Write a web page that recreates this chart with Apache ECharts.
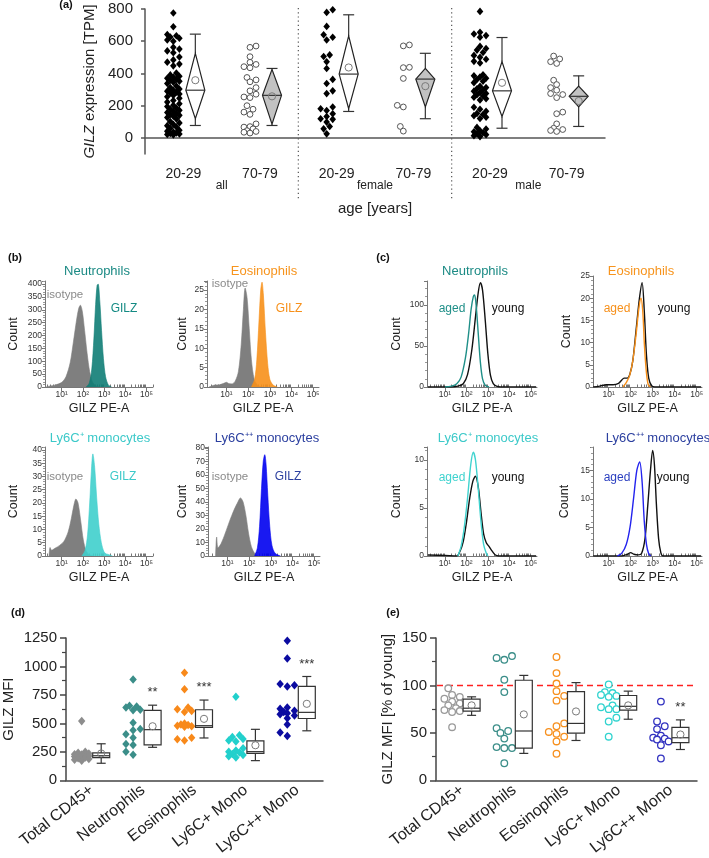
<!DOCTYPE html>
<html><head><meta charset="utf-8">
<script src="https://cdn.jsdelivr.net/npm/echarts@6/dist/echarts.min.js"></script>
<style>html,body{margin:0;padding:0;background:#fff}#c{width:709px;height:858px}</style>
</head><body><div id="c"></div>
<script>
// ================= DATA =================
// (a) GILZ expression [TPM]
const ageLabels = ['20-29','70-79','20-29','70-79','20-29','70-79'];
const sexLabels = ['all','female','male'];
const aYTicks = [0,200,400,600,800];
const aAllYoung = [775,690,642,634,626,618,608,600,562,551,540,528,502,484,470,458,447,402,391,383,376,370,364,358,352,345,338,322,312,303,296,290,284,278,272,264,255,246,232,222,212,203,195,186,178,171,165,158,152,146,140,134,127,118,102,93,84,76,68,60,47,41,36,31,28,24,21,18];
const aAllOld = [570,562,504,469,456,442,435,375,360,348,312,292,271,254,250,200,178,160,146,87,70,67,56,45,40,35,30];
const aFemYoung = [795,779,692,640,625,608,515,505,473,431,363,338,292,275,192,181,170,150,133,119,115,98,71,56,25];
const aFemOld = [577,571,438,436,369,202,192,71,42];
const aMaleYoung = [785,655,645,635,625,568,555,545,530,512,500,488,475,465,392,385,378,370,362,352,343,320,312,305,298,290,282,276,268,260,252,243,235,190,178,165,152,145,138,128,120,65,55,45,38,32,26,20,14,8];
const aMaleOld = [508,490,473,462,358,331,312,296,275,269,250,160,150,87,60,52,46,40];
const aWhiskerLow = [77,77,164,119,60,71];
const aQ1 = [119,85,181,192,133,192];
const aMedian = [296,264,396,365,292,258];
const aQ3 = [525,425,633,431,473,321];
const aWhiskerHigh = [644,431,764,525,623,385];
const aMean = [358,258,437,321,342,229];

// (b) flow histograms: [log10(GILZ PE-A), count]
const decadeTicks = [1,2,3,4,5];
const b1Iso = [[0.25,0],[0.4,3],[0.7,8],[1.0,18],[1.2,40],[1.4,95],[1.55,175],[1.7,260],[1.8,305],[1.88,318],[1.97,295],[2.08,220],[2.2,130],[2.32,60],[2.45,20],[2.6,5],[2.8,0]];
const b1Gilz = [[2.15,0],[2.3,15],[2.42,70],[2.52,190],[2.6,320],[2.67,395],[2.72,400],[2.8,330],[2.88,220],[2.97,110],[3.07,40],[3.2,8],[3.35,0]];
const b2Iso = [[0.2,0],[0.45,0.5],[0.7,0.6],[0.9,1.0],[1.0,1.2],[1.1,0.9],[1.25,0.8],[1.4,1.5],[1.55,4],[1.68,11],[1.78,20],[1.86,25.5],[1.95,23],[2.05,15],[2.15,7],[2.28,2],[2.45,0.4],[2.7,0]];
const b2Gilz = [[2.15,0],[2.3,2],[2.4,7],[2.5,17],[2.58,25],[2.64,27],[2.7,24],[2.8,14],[2.9,6],[3.0,2],[3.15,0.5],[3.35,0]];
const b3Iso = [[0.4,0],[0.45,3.2],[0.52,2.2],[0.7,3],[0.9,4],[1.1,5.5],[1.3,9],[1.45,14],[1.57,19],[1.67,21.5],[1.77,20],[1.9,13],[2.02,6],[2.15,2],[2.3,0.5],[2.5,0]];
const b3Gilz = [[1.95,0],[2.1,2],[2.22,8],[2.32,20],[2.4,32],[2.47,38.5],[2.55,34],[2.65,22],[2.75,12],[2.87,5],[3.0,1.5],[3.1,0.8],[3.2,0.6],[3.4,0]];
const b4Iso = [[0.45,0],[0.5,14],[0.56,6],[0.7,9],[0.9,17],[1.1,26],[1.3,34],[1.45,39],[1.6,43],[1.72,40],[1.85,30],[1.97,17],[2.1,7],[2.25,2],[2.4,0]];
const b4Gilz = [[2.25,0],[2.38,6],[2.48,22],[2.57,50],[2.65,70],[2.72,75],[2.78,68],[2.86,45],[2.95,22],[3.05,8],[3.2,2],[3.45,0]];
// (c) aged vs young
const c1Aged = [[1.0,0],[1.3,1],[1.55,4],[1.75,12],[1.95,35],[2.1,65],[2.22,95],[2.32,110],[2.38,112],[2.45,100],[2.55,65],[2.65,30],[2.75,10],[2.88,2],[3.05,0]];
const c1Young = [[0.2,0],[1.3,0],[1.6,1],[1.85,4],[2.05,15],[2.25,45],[2.42,85],[2.55,115],[2.65,127],[2.75,118],[2.88,80],[3.0,40],[3.12,14],[3.25,4],[3.4,1],[3.6,0],[5.25,0]];
const c2Aged = [[1.65,0],[1.8,1],[1.95,2.5],[2.1,6],[2.25,12],[2.38,18],[2.47,20],[2.55,17],[2.63,9],[2.72,3],[2.8,0.5],[2.9,0]];
const c2Young = [[0.3,0],[0.6,0.2],[0.9,0.5],[1.2,0.5],[1.45,0.8],[1.6,1.6],[1.7,2],[1.85,2],[1.97,3],[2.1,6],[2.25,13],[2.4,20],[2.52,23.5],[2.62,17],[2.72,7],[2.82,2],[2.95,0.3],[3.1,0],[5.2,0]];
const c3Aged = [[1.6,0],[1.75,1],[1.9,3],[2.05,6],[2.2,9.5],[2.32,10.8],[2.42,10],[2.55,7],[2.68,3.5],[2.8,1.2],[2.92,0.3],[3.0,0]];
const c3Young = [[0.2,0.1],[1.0,0.05],[1.55,0],[1.7,0.5],[1.85,1.5],[2.0,3.5],[2.15,6],[2.3,7.8],[2.42,8.3],[2.55,7.2],[2.68,4.5],[2.8,2.3],[2.92,1.4],[3.05,1],[3.2,0.5],[3.35,0.1],[3.5,0],[5.25,0]];
const c4Aged = [[1.4,0],[1.6,0.5],[1.8,2],[1.97,5],[2.13,10],[2.28,15],[2.41,16.5],[2.52,13],[2.62,6],[2.72,2],[2.82,0.4],[2.92,0]];
const c4Young = [[0.3,0],[1.6,0],[1.85,0.3],[2.0,0.6],[2.15,0.3],[2.35,0.2],[2.5,0.5],[2.65,3],[2.78,9],[2.9,15],[3.0,18.5],[3.08,16],[3.17,9],[3.27,3],[3.37,0.6],[3.47,0],[5.2,0]];

// (d) GILZ MFI
const cellTypes = ['Total CD45+','Neutrophils','Eosinophils','Ly6C+ Mono','Ly6C++ Mono'];
const dTotal = [520,250,242,236,230,226,222,218,214,210,205,200,195,188,180,172];
const dNeut = [885,655,648,640,620,615,505,450,440,405,375,320,310,250,225];
const dEos = [945,800,640,625,610,600,500,490,485,480,475,470,375,360,350];
const dLy6C = [735,395,380,362,350,342,282,262,252,244,232,222,212,200];
const dLy6Cpp = [1225,1070,845,835,825,640,628,612,600,590,580,570,545,490,420,390];
const dWhiskerLow = [150,290,372,173,435];
const dQ1 = [199,312,465,236,543];
const dMedian = [216,445,480,252,597];
const dQ3 = [241,615,620,347,825];
const dWhiskerHigh = [321,660,705,448,912];
const dMean = [236,475,540,308,672];
const dSig = ['','**','***','','***'];

// (e) GILZ MFI [% of young]
const eTotal = [97,90,88,86,83,81,79,76,74,73,72,56];
const eNeut = [131,129,127,106,93,55,52,50,44,35,34,34,18];
const eEos = [130,113,102,94,89,84,60,57,51,49,46,41,28];
const eLy6C = [101,93,92,90,89,88,79,77,75,75,66,62,46];
const eLy6Cpp = [83,62,57,54,47,45,44,43,41,37,23];
const eWhiskerLow = [68.5,28.4,42,64.4,32.5];
const eQ1 = [73,34,49.7,74,39.7];
const eMedian = [76,52,60,78,44.9];
const eQ3 = [85.6,105.5,93.5,89.4,55.8];
const eWhiskerHigh = [88,110.6,103,94,63.7];
const eMean = [79,69.5,72.6,79,48.3];
const eSig = ['','','','','**'];
const eReference = 100;

// ================= HELPERS =================
const FONT = '"Liberation Sans", Arial, sans-serif';
const SUP = {1:'¹',2:'²',3:'³',4:'⁴',5:'⁵'};

function swarmLayout(ys, diam, maxW) {
  const n = ys.length;
  const order = ys.map((y, i) => i).sort((a, b) => ys[b] - ys[a]);
  const off = new Array(n).fill(0), placed = [];
  const step = diam * 0.55;
  const cands = [0];
  for (let k = 1; k * step <= maxW + 0.01; k++) cands.push(k * step, -k * step);
  order.forEach((i, j) => {
    let best = 0, bestD = -1;
    for (const c0 of cands) {
      const c = (j % 2 ? -c0 : c0);
      let md = Infinity;
      for (const p of placed) { const d = Math.hypot(p[0] - c, p[1] - ys[i]); if (d < md) md = d; }
      if (md >= diam * 0.95) { best = c; bestD = Infinity; break; }
      if (md > bestD) { bestD = md; best = c; }
    }
    off[i] = best; placed.push([best, ys[i]]);
  });
  return off;
}
function mark(shape, x, y, s, st) {
  if (shape === 'diamond') return {type:'polygon', shape:{points:[[x,y-s*1.15],[x+s,y],[x,y+s*1.15],[x-s,y]]}, style:st};
  return {type:'circle', shape:{cx:x, cy:y, r:s}, style:st};
}
function dotSeries(xi, yi, cat, values, cfg) {
  let off = null;
  return {
    type:'custom', xAxisIndex:xi, yAxisIndex:yi, clip:false, silent:true, z:5,
    data: values.map(v => [cat, v]),
    renderItem(params, api) {
      if (!off) off = swarmLayout(values.map(v => api.coord([cat, v])[1]), cfg.diam, cfg.maxW);
      const c = api.coord([cat, api.value(1)]);
      return mark(cfg.shape, c[0] + cfg.dx + off[params.dataIndex], c[1], cfg.size, cfg.style);
    }
  };
}
function boxSeries(xi, yi, wl, q1, md, q3, wh, mn, sig, cfg) {
  return {
    type:'custom', xAxisIndex:xi, yAxisIndex:yi, clip:false, silent:true, z:6,
    data: wl.map((_, i) => [i, wl[i], q1[i], md[i], q3[i], wh[i], mn[i]]),
    encode:{x:0, y:[1,2,3,4,5]},
    renderItem(params, api) {
      const i = params.dataIndex;
      const P = k => api.coord([i, api.value(k)]);
      const cx = P(1)[0] + cfg.dx, hw = cfg.hw, cap = cfg.cap;
      const yWl = P(1)[1], yQ1 = P(2)[1], yMd = P(3)[1], yQ3 = P(4)[1], yWh = P(5)[1], yMn = P(6)[1];
      const ls = {stroke:'#333', lineWidth:1.2, fill:null};
      const ch = [
        {type:'line', shape:{x1:cx, y1:yWh, x2:cx, y2:yQ3}, style:ls},
        {type:'line', shape:{x1:cx, y1:yQ1, x2:cx, y2:yWl}, style:ls},
        {type:'line', shape:{x1:cx-cap, y1:yWh, x2:cx+cap, y2:yWh}, style:ls},
        {type:'line', shape:{x1:cx-cap, y1:yWl, x2:cx+cap, y2:yWl}, style:ls}
      ];
      if (cfg.diamond) {
        ch.push({type:'polygon', shape:{points:[[cx,yQ3],[cx+hw,yMd],[cx,yQ1],[cx-hw,yMd]]}, style:{fill: cfg.fills[i], stroke:'#222', lineWidth:1.2}});
      } else {
        ch.push({type:'rect', shape:{x:cx-hw, y:yQ3, width:2*hw, height:yQ1-yQ3}, style:{fill:'#fff', stroke:'#333', lineWidth:1.2}});
      }
      ch.push({type:'line', shape:{x1:cx-hw, y1:yMd, x2:cx+hw, y2:yMd}, style:ls});
      ch.push({type:'circle', shape:{cx:cx, cy:yMn, r:3.6}, style:{fill:'none', stroke:'#7a7a7a', lineWidth:1}});
      if (sig && sig[i]) ch.push({type:'text', style:{text:sig[i], x:cx, y:yWh-6, align:'center', verticalAlign:'bottom', fontSize:13, fontFamily:FONT, fill:'#333'}});
      return {type:'group', children:ch};
    }
  };
}

// ================= LAYOUT =================
const grids = [], xAxes = [], yAxes = [], series = [], graphics = [];
const AX = '#555';

// ---- (a) ----
grids.push({left:145, top:9, width:460, height:145});
xAxes.push({type:'category', gridIndex:0, data: ageLabels.map((_, i) => 'g' + i),
  axisLine:{lineStyle:{color:AX, width:1.5}}, axisTick:{alignWithLabel:true, length:7, lineStyle:{color:AX, width:1.5}},
  axisLabel:{formatter:(v, i) => ageLabels[i], fontSize:14, color:'#222', margin:13},
  name:'age [years]', nameLocation:'middle', nameGap:47, nameTextStyle:{fontSize:15, color:'#222'}});
yAxes.push({type:'value', gridIndex:0, min:-100, max:800,
  axisLine:{show:true, lineStyle:{color:AX, width:1.5}},
  axisTick:{show:true, customValues:aYTicks, length:4, lineStyle:{color:AX, width:1.5}},
  axisLabel:{customValues:aYTicks, fontSize:15, color:'#222', margin:12},
  splitLine:{show:false},
  name:'{i|GILZ} expression [TPM]', nameLocation:'middle', nameGap:45,
  nameTextStyle:{fontSize:15, color:'#222', rich:{i:{fontStyle:'italic', fontSize:15, color:'#222'}}}});
[aAllYoung, aAllOld, aFemYoung, aFemOld, aMaleYoung, aMaleOld].forEach((vals, i) => {
  const young = i % 2 === 0;
  series.push(dotSeries(0, 0, i, vals, {dx:-10, maxW:7, diam:5.5, size: young ? 3.3 : 2.9, shape: young ? 'diamond' : 'circle',
    style: young ? {fill:'#000'} : {fill:'#fff', stroke:'#555', lineWidth:1}}));
});
series.push(boxSeries(0, 0, aWhiskerLow, aQ1, aMedian, aQ3, aWhiskerHigh, aMean, null,
  {dx:12, hw:9.5, cap:5.5, diamond:true, fills: ageLabels.map((_, i) => i % 2 ? '#c2c2c2' : '#fff')}));
series.push({type:'custom', xAxisIndex:0, yAxisIndex:0, clip:false, silent:true, z:3,
  data: sexLabels.map((s, i) => [2 * i, 0]),
  renderItem(params, api) {
    const i = params.dataIndex, cs = params.coordSys;
    const p0 = api.coord([2 * i, 0]), p1 = api.coord([2 * i + 1, 0]);
    const base = cs.y + cs.height;
    const ch = [{type:'text', style:{text:sexLabels[i], x:(p0[0] + p1[0]) / 2, y:base + 32, align:'center', verticalAlign:'middle', fontSize:12, fontFamily:FONT, fill:'#222'}}];
    if (i < sexLabels.length - 1) {
      const q = api.coord([2 * i + 2, 0]);
      const xm = (p1[0] + q[0]) / 2;
      ch.push({type:'line', shape:{x1:xm, y1:cs.y - 1, x2:xm, y2:base + 45}, style:{stroke:'#555', lineWidth:1.2, lineDash:[1.2, 3]}});
    }
    return {type:'group', children:ch};
  }});

// ---- (b), (c) flow panels ----
const flowPanels = [
  {left:45, top:281, width:108, height:106, xr:[0.21,5.31], ymax:412, step:50, gap:25, lines:[[b1Iso,'#7f7f7f',true],[b1Gilz,'#0f7d76',true]]},
  {left:207, top:281, width:112, height:106, xr:[0.1,5.27], ymax:27.3, step:5, gap:18, lines:[[b2Iso,'#7f7f7f',true],[b2Gilz,'#f7901a',true]]},
  {left:45, top:447, width:108, height:109, xr:[0.21,5.31], ymax:41.1, step:5, gap:25, lines:[[b3Iso,'#7f7f7f',true],[b3Gilz,'#3fcfcc',true]]},
  {left:208, top:447, width:112, height:109, xr:[0.1,5.27], ymax:80.7, step:10, gap:19, lines:[[b4Iso,'#7f7f7f',true],[b4Gilz,'#0000f0',true]]},
  {left:427, top:281, width:110, height:106, xr:[0.16,5.29], ymax:129, step:50, gap:24, lines:[[c1Young,'#111',false],[c1Aged,'#1f8f88',false]]},
  {left:593, top:276, width:109, height:111, xr:[0.29,5.24], ymax:25, step:5, gap:20, lines:[[c2Young,'#111',false],[c2Aged,'#f7901a',false]]},
  {left:427, top:447, width:110, height:109, xr:[0.16,5.29], ymax:11.35, step:5, gap:24, lines:[[c3Young,'#111',false],[c3Aged,'#3fd3cf',false]]},
  {left:593, top:447, width:109, height:109, xr:[0.29,5.24], ymax:19.1, step:5, gap:22, lines:[[c4Young,'#111',false],[c4Aged,'#2323ee',false]]}
];
const FAX = '#777';
flowPanels.forEach((p, k) => {
  const g = grids.length;
  grids.push({left:p.left, top:p.top, width:p.width, height:p.height});
  const minor = [];
  for (let d = 0; d <= 5; d++) for (let m = 2; m <= 9; m++) { const v = d + Math.log10(m); if (v > p.xr[0] && v < p.xr[1]) minor.push(+v.toFixed(4)); }
  const xi = xAxes.length;
  xAxes.push({type:'value', gridIndex:g, min:p.xr[0], max:p.xr[1],
    axisLine:{onZero:false, lineStyle:{color:FAX, width:1}},
    axisTick:{customValues:decadeTicks, length:4, lineStyle:{color:FAX}},
    axisLabel:{customValues:decadeTicks, formatter:v => '10' + SUP[v], fontSize:8.5, color:'#333', margin:3},
    splitLine:{show:false},
    name:'GILZ PE-A', nameLocation:'middle', nameGap:15, nameTextStyle:{fontSize:12.5, color:'#222'}});
  xAxes.push({type:'value', gridIndex:g, min:p.xr[0], max:p.xr[1], axisLine:{show:false},
    axisTick:{customValues:minor, length:2.5, lineStyle:{color:FAX}}, axisLabel:{show:false}, splitLine:{show:false}});
  const yi = yAxes.length;
  yAxes.push({type:'value', gridIndex:g, min:0, max:p.ymax, interval:p.step,
    axisLine:{show:true, lineStyle:{color:FAX, width:1}},
    axisTick:{show:true, length:3, lineStyle:{color:FAX}},
    minorTick:{show:true, splitNumber:5, length:2, lineStyle:{color:'#999'}},
    axisLabel:{formatter:v => (Math.abs(v / p.step - Math.round(v / p.step)) < 1e-6 ? String(v) : ''), fontSize:8.5, color:'#333', margin:3},
    splitLine:{show:false},
    name:'Count', nameLocation:'middle', nameGap:p.gap, nameTextStyle:{fontSize:12.5, color:'#222'}});
  p.lines.forEach(([d, c, fill], j) => {
    series.push({type:'line', xAxisIndex:xi, yAxisIndex:yi, data:d, smooth:0.3, symbol:'none', showSymbol:false, silent:true,
      lineStyle:{color:c, width: fill ? 0.6 : 1.4}, z: 2 + j,
      areaStyle: fill ? {color:c, opacity: j === 0 ? 1 : 0.9} : undefined});
  });
});

// ---- (d) ----
const dG = grids.length;
grids.push({left:63, top:638, width:260, height:145});
const dX = xAxes.length;
const catAxis = (g) => ({type:'category', gridIndex:g, data:cellTypes,
  axisLine:{lineStyle:{color:'#444', width:1.5}}, axisTick:{alignWithLabel:true, length:6, lineStyle:{color:'#444', width:1.5}},
  axisLabel:{rotate:38, fontSize:16, color:'#222', margin:8, interval:0}});
xAxes.push(catAxis(dG));
const dY = yAxes.length;
yAxes.push({type:'value', gridIndex:dG, min:0, max:1250, interval:250,
  axisLine:{show:true, lineStyle:{color:'#444', width:1.5}}, axisTick:{show:true, length:6, lineStyle:{color:'#444', width:1.5}},
  minorTick:{show:true, splitNumber:2, length:4, lineStyle:{color:'#444', width:1.2}},
  axisLabel:{fontSize:15, color:'#222', margin:9, formatter:v => String(v)}, splitLine:{show:false},
  name:'GILZ MFI', nameLocation:'middle', nameGap:50, nameTextStyle:{fontSize:15, color:'#222'}});
const dColors = ['#8d8d8d','#3b8e89','#f8891a','#21d0cc','#0b0ba0'];
[dTotal, dNeut, dEos, dLy6C, dLy6Cpp].forEach((vals, i) => {
  series.push(dotSeries(dX, dY, i, vals, {dx:-10, maxW:9, diam:6.5, size:3.7, shape:'diamond', style:{fill:dColors[i]}}));
});
series.push(boxSeries(dX, dY, dWhiskerLow, dQ1, dMedian, dQ3, dWhiskerHigh, dMean, dSig, {dx:9.5, hw:8.5, cap:4.5}));

// ---- (e) ----
const eG = grids.length;
grids.push({left:436, top:638, width:261, height:145});
const eX = xAxes.length;
xAxes.push(catAxis(eG));
const eY = yAxes.length;
yAxes.push({type:'value', gridIndex:eG, min:0, max:150, interval:50,
  axisLine:{show:true, lineStyle:{color:'#444', width:1.5}}, axisTick:{show:true, length:6, lineStyle:{color:'#444', width:1.5}},
  minorTick:{show:true, splitNumber:2, length:4, lineStyle:{color:'#444', width:1.2}},
  axisLabel:{fontSize:15, color:'#222', margin:9, formatter:v => String(v)}, splitLine:{show:false},
  name:'GILZ MFI [% of young]', nameLocation:'middle', nameGap:41, nameTextStyle:{fontSize:15, color:'#222'}});
const eColors = ['#9a9a9a','#3b8e89','#f7901e','#2fd3cf','#3232c0'];
[eTotal, eNeut, eEos, eLy6C, eLy6Cpp].forEach((vals, i) => {
  series.push(dotSeries(eX, eY, i, vals, {dx:-10, maxW:9, diam:7, size:3.3, shape:'circle', style:{fill:'#fff', stroke:eColors[i], lineWidth:1.3}}));
});
series.push({type:'custom', xAxisIndex:eX, yAxisIndex:eY, clip:false, silent:true, z:4, data:[[0, eReference]],
  renderItem(params, api) {
    const cs = params.coordSys, y = Math.round(api.coord([0, api.value(1)])[1]) + 0.5;
    return {type:'line', shape:{x1:cs.x + 1, y1:y, x2:cs.x + cs.width, y2:y}, style:{stroke:'#ff2020', lineWidth:1.5, lineDash:[6, 4], fill:null}};
  }});
series.push(boxSeries(eX, eY, eWhiskerLow, eQ1, eMedian, eQ3, eWhiskerHigh, eMean, eSig, {dx:9.5, hw:8.5, cap:4.5}));

// ---- texts ----
function txt(text, x, y, color, size, bold) {
  return {type:'text', x:x, y:y, silent:true, style:{text:text, fill:color, fontSize:size, fontFamily:FONT, fontWeight: bold ? 'bold' : 'normal',
    align:'center', verticalAlign:'middle', textAlign:'center', textVerticalAlign:'middle'}};
}
graphics.push(
  txt('(a)', 66, 5, '#111', 11, true), txt('(b)', 15, 258, '#111', 11, true), txt('(c)', 383, 258, '#111', 11, true),
  txt('(d)', 18, 613, '#111', 11, true), txt('(e)', 393, 613, '#111', 11, true),
  txt('Neutrophils', 97, 271, '#1b8a84', 13), txt('Eosinophils', 264, 271, '#f7941d', 13),
  txt('Ly6C⁺ monocytes', 100, 438, '#3cc9c9', 13), txt('Ly6C⁺⁺ monocytes', 267, 438, '#2b3f9f', 13),
  txt('Neutrophils', 475, 271, '#1b8a84', 13), txt('Eosinophils', 641, 271, '#f7941d', 13),
  txt('Ly6C⁺ monocytes', 488, 438, '#3cc9c9', 13), txt('Ly6C⁺⁺ monocytes', 658, 438, '#2b3f9f', 13),
  txt('isotype', 65, 295, '#8a8a8a', 11.5), txt('GILZ', 124, 309, '#138a83', 12),
  txt('isotype', 230, 284, '#8a8a8a', 11.5), txt('GILZ', 289, 309, '#f7901a', 12),
  txt('isotype', 65, 477, '#8a8a8a', 11.5), txt('GILZ', 123, 477, '#3cc9c9', 12),
  txt('isotype', 230, 477, '#8a8a8a', 11.5), txt('GILZ', 288, 477, '#2b3f9f', 12),
  txt('aged', 452, 309, '#1f8f88', 12), txt('young', 508, 309, '#111', 12),
  txt('aged', 617, 309, '#f7901a', 12), txt('young', 674, 309, '#111', 12),
  txt('aged', 452, 478, '#3fd3cf', 12), txt('young', 508, 478, '#111', 12),
  txt('aged', 617, 478, '#2b3fc0', 12), txt('young', 673, 478, '#111', 12)
);

const chart = echarts.init(document.getElementById('c'), null, {renderer:'canvas'});
chart.setOption({
  animation:false, backgroundColor:'#fff', textStyle:{fontFamily:FONT},
  grid:grids, xAxis:xAxes, yAxis:yAxes, series:series, graphic:{elements:graphics}
});
</script></body></html>
